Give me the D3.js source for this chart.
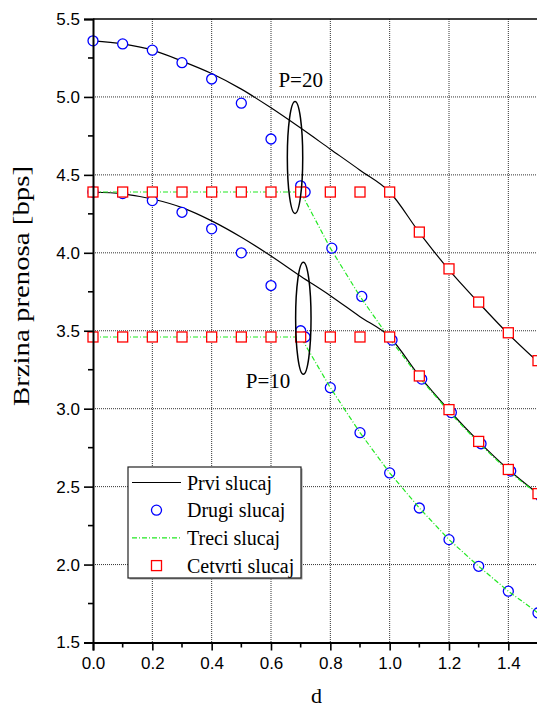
<!DOCTYPE html>
<html>
<head>
<meta charset="utf-8">
<script src="https://cdn.jsdelivr.net/npm/d3@7"></script>
<style>
  html, body { margin: 0; padding: 0; background: #fff; }
  svg { display: block; }
</style>
</head>
<body>
<svg id="chart"></svg>
<script>
const W = 537;
const H = 709;

// x values (d)
const dGrid = [0, 0.1, 0.2, 0.3, 0.4, 0.5, 0.6, 0.7, 0.8, 0.9, 1.0, 1.1, 1.2, 1.3, 1.4, 1.5];
const dDrugiP20 = [0, 0.1, 0.2, 0.3, 0.4, 0.5, 0.6, 0.7, 0.715, 0.805, 0.906, 1.008, 1.108, 1.208, 1.308, 1.408, 1.508];
const dDrugiP10 = [0, 0.1, 0.2, 0.3, 0.4, 0.5, 0.6, 0.7, 0.715, 0.8, 0.9, 1.0, 1.1, 1.2, 1.3, 1.4, 1.5];

// Prvi slucaj (black line)
const prviP20 = [5.36, 5.34, 5.30, 5.23, 5.15, 5.05, 4.93, 4.80, 4.665, 4.53, 4.39, 4.13, 3.89, 3.68, 3.48, 3.30];
const prviP10 = [4.39, 4.378, 4.345, 4.29, 4.205, 4.10, 3.98, 3.85, 3.725, 3.59, 3.46, 3.21, 2.99, 2.79, 2.61, 2.455];

// Drugi slucaj (blue circles)
const drugiP20 = [5.36, 5.34, 5.30, 5.22, 5.115, 4.96, 4.73, 4.43, 4.39, 4.03, 3.72, 3.44, 3.19, 2.975, 2.775, 2.60, 2.44];
const drugiP10 = [4.39, 4.38, 4.335, 4.26, 4.154, 4.00, 3.79, 3.50, 3.46, 3.135, 2.846, 2.588, 2.363, 2.16, 1.989, 1.829, 1.69];

// Treci slucaj (green dash-dot)
const treciP20 = [4.39, 4.39, 4.39, 4.39, 4.39, 4.39, 4.39, 4.39, 4.03, 3.72, 3.45, 3.20, 2.98, 2.78, 2.60, 2.45];
const treciP10 = [3.46, 3.46, 3.46, 3.46, 3.46, 3.46, 3.46, 3.46, 3.135, 2.846, 2.588, 2.363, 2.16, 1.989, 1.829, 1.69];

// Cetvrti slucaj (red squares)
const cetvrtiP20 = [4.39, 4.39, 4.39, 4.39, 4.39, 4.39, 4.39, 4.39, 4.39, 4.39, 4.39, 4.133, 3.897, 3.684, 3.487, 3.308];
const cetvrtiP10 = [3.46, 3.46, 3.46, 3.46, 3.46, 3.46, 3.46, 3.46, 3.46, 3.46, 3.46, 3.21, 2.994, 2.79, 2.61, 2.455];

const xTicks = [0.0, 0.2, 0.4, 0.6, 0.8, 1.0, 1.2, 1.4];
const xMinor = [0.1, 0.3, 0.5, 0.7, 0.9, 1.1, 1.3];
const yTicks = [1.5, 2.0, 2.5, 3.0, 3.5, 4.0, 4.5, 5.0, 5.5];
const yMinor = [1.75, 2.25, 2.75, 3.25, 3.75, 4.25, 4.75, 5.25];

const legendNames = ["Prvi slucaj", "Drugi slucaj", "Treci slucaj", "Cetvrti slucaj"];

// annotations: ellipse center (d, value), label position (d, value)
const notes = [
  { label: "P=20", cx: 0.681, cy: 4.612, tx: 0.70, ty: 5.062 },
  { label: "P=10", cx: 0.709, cy: 3.58, tx: 0.59, ty: 3.133 }
];

const M = { left: 93, top: 19, right: 538, bottom: 642.5 };

const x = d3.scaleLinear().domain([0, 1.5]).range([M.left, M.right]);
const y = d3.scaleLinear().domain([1.5, 5.5]).range([M.bottom, M.top]);

const svg = d3.select("#chart").attr("width", W).attr("height", H);

const BLUE = "#0000ff";
const RED = "#ff0000";
const GREEN = "#22e822";
const serif = "Liberation Serif, Times New Roman, serif";
const sans = "Liberation Sans, Arial, sans-serif";

// grid
svg.append("g").selectAll("line")
  .data(xTicks.slice(1))
  .enter().append("line")
  .attr("x1", d => x(d)).attr("x2", d => x(d))
  .attr("y1", M.top).attr("y2", M.bottom)
  .attr("stroke", "#333").attr("stroke-width", 1).attr("stroke-dasharray", "1,1");

svg.append("g").selectAll("line")
  .data(yTicks.slice(1, -1))
  .enter().append("line")
  .attr("x1", M.left).attr("x2", M.right)
  .attr("y1", d => y(d)).attr("y2", d => y(d))
  .attr("stroke", "#333").attr("stroke-width", 1).attr("stroke-dasharray", "1,1");

// lines
const smooth = d3.line().x(d => x(d[0])).y(d => y(d[1])).curve(d3.curveMonotoneX);
const straight = d3.line().x(d => x(d[0])).y(d => y(d[1]));

[prviP20, prviP10].forEach(s => {
  svg.append("path")
    .attr("d", smooth(dGrid.map((d, i) => [d, s[i]])))
    .attr("fill", "none").attr("stroke", "#000").attr("stroke-width", 1.2);
});

// circles
[[dDrugiP20, drugiP20], [dDrugiP10, drugiP10]].forEach(([xs, s]) => {
  svg.append("g").selectAll("circle")
    .data(xs.map((d, i) => [d, s[i]]))
    .enter().append("circle")
    .attr("cx", d => x(d[0])).attr("cy", d => y(d[1]))
    .attr("r", 5)
    .attr("fill", "#fff").attr("stroke", BLUE).attr("stroke-width", 1.3);
});

[treciP20, treciP10].forEach(s => {
  svg.append("path")
    .attr("d", straight(dGrid.map((d, i) => [d, s[i]])))
    .attr("fill", "none").attr("stroke", GREEN).attr("stroke-width", 1.2)
    .attr("stroke-dasharray", "5,2,1,2");
});

// squares
[cetvrtiP20, cetvrtiP10].forEach(s => {
  svg.append("g").selectAll("rect")
    .data(dGrid.map((d, i) => [d, s[i]]))
    .enter().append("rect")
    .attr("x", d => x(d[0]) - 5).attr("y", d => y(d[1]) - 5)
    .attr("width", 10).attr("height", 10)
    .attr("fill", "#fff").attr("stroke", RED).attr("stroke-width", 1.3);
});

// annotations
notes.forEach(n => {
  svg.append("ellipse")
    .attr("cx", x(n.cx)).attr("cy", y(n.cy))
    .attr("rx", 7.7).attr("ry", 56)
    .attr("fill", "none").attr("stroke", "#000").attr("stroke-width", 1.5);
  svg.append("text")
    .attr("x", x(n.tx)).attr("y", y(n.ty))
    .attr("text-anchor", "middle")
    .attr("font-family", serif).attr("font-size", 21)
    .text(n.label);
});

// axes frame
svg.append("line").attr("x1", M.left).attr("x2", M.right).attr("y1", M.top).attr("y2", M.top)
  .attr("stroke", "#000").attr("stroke-width", 1.5);

const yAxis = svg.append("g").attr("transform", `translate(${M.left},0)`)
  .call(d3.axisLeft(y).tickValues(yTicks).tickFormat(d3.format(".1f")).tickSize(9).tickPadding(4));
const xAxis = svg.append("g").attr("transform", `translate(0,${M.bottom})`)
  .call(d3.axisBottom(x).tickValues(xTicks).tickFormat(d3.format(".1f")).tickSize(8).tickPadding(6));

[yAxis, xAxis].forEach(a => {
  a.select(".domain").attr("stroke-width", 2);
  a.selectAll(".tick line").attr("stroke-width", 1.6);
  a.selectAll("text").attr("font-family", sans).attr("font-size", 17).attr("fill", "#000");
});

svg.append("g").selectAll("line").data(yMinor).enter().append("line")
  .attr("x1", M.left - 5).attr("x2", M.left)
  .attr("y1", d => y(d)).attr("y2", d => y(d))
  .attr("stroke", "#000").attr("stroke-width", 1.6);
svg.append("g").selectAll("line").data(xMinor).enter().append("line")
  .attr("x1", d => x(d)).attr("x2", d => x(d))
  .attr("y1", M.bottom).attr("y2", M.bottom + 5)
  .attr("stroke", "#000").attr("stroke-width", 1.6);

// axis titles
svg.append("text")
  .attr("transform", "translate(29,286) rotate(-90)")
  .attr("text-anchor", "middle")
  .attr("font-family", serif).attr("font-size", 24)
  .attr("textLength", 240).attr("lengthAdjust", "spacingAndGlyphs")
  .text("Brzina prenosa [bps]");
svg.append("text")
  .attr("x", 316.5).attr("y", 703)
  .attr("text-anchor", "middle")
  .attr("font-family", serif).attr("font-size", 22)
  .text("d");

// legend
const lg = svg.append("g").attr("transform", "translate(128,467)");
lg.append("rect").attr("x", 1.5).attr("y", 1.5).attr("width", 173).attr("height", 111).attr("fill", "#999");
lg.append("rect").attr("width", 173).attr("height", 111).attr("fill", "#fff")
  .attr("stroke", "#222").attr("stroke-width", 1.2);

legendNames.forEach((name, i) => {
  const cy = 15.5 + i * 27.7;
  if (i === 0) {
    lg.append("line").attr("x1", 4).attr("x2", 53).attr("y1", cy).attr("y2", cy)
      .attr("stroke", "#000").attr("stroke-width", 1.2);
  } else if (i === 1) {
    lg.append("circle").attr("cx", 28.5).attr("cy", cy).attr("r", 5)
      .attr("fill", "#fff").attr("stroke", BLUE).attr("stroke-width", 1.3);
  } else if (i === 2) {
    lg.append("line").attr("x1", 4).attr("x2", 53).attr("y1", cy).attr("y2", cy)
      .attr("stroke", GREEN).attr("stroke-width", 1.2).attr("stroke-dasharray", "5,2,1,2");
  } else {
    lg.append("rect").attr("x", 23.5).attr("y", cy - 5).attr("width", 10).attr("height", 10)
      .attr("fill", "#fff").attr("stroke", RED).attr("stroke-width", 1.3);
  }
  lg.append("text")
    .attr("x", 59).attr("y", cy + 7)
    .attr("font-family", serif).attr("font-size", 20)
    .text(name);
});
</script>
</body>
</html>
